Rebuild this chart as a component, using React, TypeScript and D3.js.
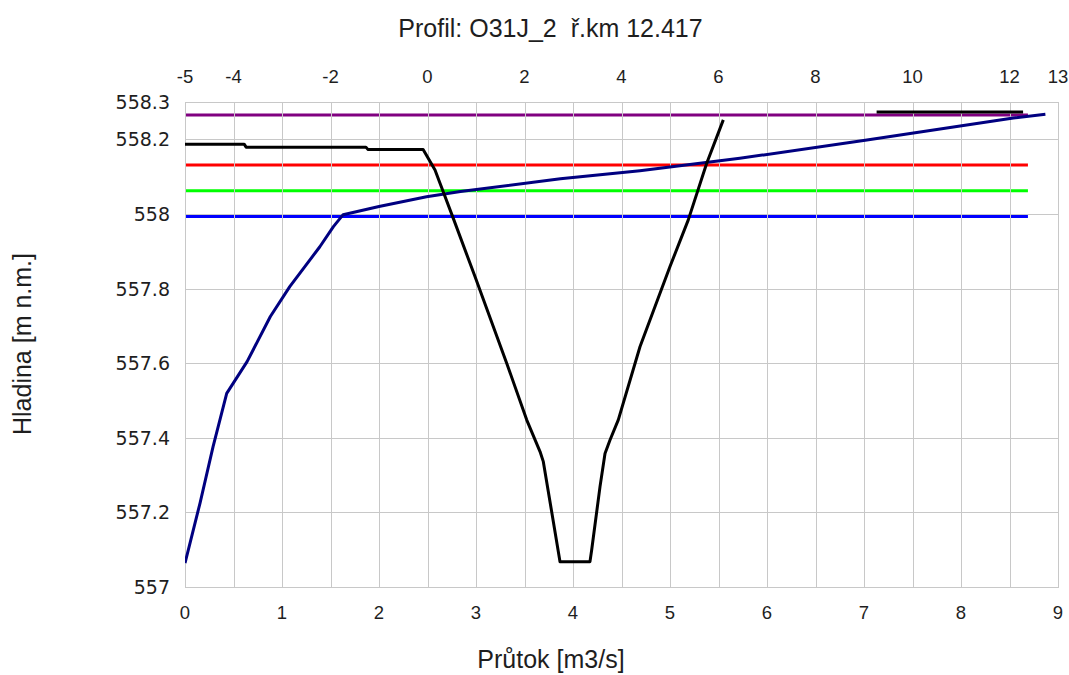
import React from "react";
import * as d3 from "d3";

// ---- data ----
const titleText = "Profil: O31J_2  ř.km 12.417";
const xTitle = "Průtok [m3/s]";
const yTitle = "Hladina [m n.m.]";

const bottomTicks = [0, 1, 2, 3, 4, 5, 6, 7, 8, 9];
const topTicks = [-5, -4, -2, 0, 2, 4, 6, 8, 10, 12, 13];
const yTicks = [557, 557.2, 557.4, 557.6, 557.8, 558, 558.2, 558.3];

// rating curve: discharge Q [m3/s] vs water level H
const ratingQ = [0, 0.155, 0.29, 0.43, 0.64, 0.88, 1.08, 1.39, 1.53, 1.63, 2.0, 2.49, 2.84, 3.87, 4.69, 5.72, 7.03, 8.54, 8.87];
const ratingH = [557.064, 557.225, 557.377, 557.519, 557.604, 557.725, 557.805, 557.912, 557.966, 557.998, 558.02, 558.046, 558.06, 558.094, 558.116, 558.149, 558.198, 558.257, 558.267];

// cross-section profile: station [m] vs elevation (NaN = gap)
const profileStation = [-5, -3.78, -3.74, -1.27, -1.23, -0.09, 0.155, 0.258, 0.532, 0.979, 1.633, 2.045, 2.32, 2.388, 2.732, 3.35, 3.385, 3.557, 3.66, 3.763, 3.934, 4.381, 5.0, 5.377, 5.757, 6.099, NaN, 9.26, 12.28];
const profileElev = [558.187, 558.187, 558.179, 558.179, 558.173, 558.173, 558.118, 558.082, 557.988, 557.832, 557.6, 557.448, 557.363, 557.336, 557.068, 557.068, 557.099, 557.269, 557.358, 557.394, 557.448, 557.644, 557.859, 557.984, 558.136, 558.252, NaN, 558.273, 558.273];

// water levels (horizontal lines) spanning the profile stations
const levelValues = [558.265, 558.131, 558.062, 557.993];
const levelColors = ["#800080", "#ff0000", "#00ff00", "#0000ff"];
const levelStart = -5;
const levelEnd = 12.38;

export default function App() {
  const W = 1069, H = 675;
  const left = 185, right = 1058, top = 102, bottom = 587;
  const x = d3.scaleLinear().domain([0, 9]).range([left, right]);
  const xTop = d3.scaleLinear().domain([-5, 13]).range([left, right]);
  const y = d3.scaleLinear().domain([557, 558.3]).range([bottom, top]);

  const gridXs = Array.from(new Set([...bottomTicks.map((t) => Math.round(x(t))), ...topTicks.map((t) => Math.round(xTop(t)))]));

  const ratingPts: [number, number][] = ratingQ.map((q, i) => [q, ratingH[i]]);
  const ratingLine = d3.line<[number, number]>().x((d) => x(d[0])).y((d) => y(d[1]));

  const profPts: [number, number][] = profileStation.map((s, i) => [s, profileElev[i]]);
  const profLine = d3
    .line<[number, number]>()
    .defined((d) => !isNaN(d[0]) && !isNaN(d[1]))
    .x((d) => xTop(d[0]))
    .y((d) => y(d[1]));

  const gridColor = "#c8c8c8";
  const textColor = "#1e1e1e";
  const arial = "'Liberation Sans', Arial, sans-serif";

  return (
    <svg width={W} height={H} style={{ position: "absolute", left: 0, top: 0, background: "#fff" }}>
      <rect x={0} y={0} width={W} height={H} fill="#fff" />
      <defs>
        <clipPath id="plotclip">
          <rect x={left} y={top} width={right - left} height={bottom - top} />
        </clipPath>
      </defs>

      {/* water levels */}
      <g clipPath="url(#plotclip)">
        {levelValues.map((v, i) => (
          <line key={i} x1={xTop(levelStart)} x2={xTop(levelEnd)} y1={y(v)} y2={y(v)} stroke={levelColors[i]} strokeWidth={3} />
        ))}
      </g>

      {/* grid */}
      <g shapeRendering="crispEdges">
        {gridXs.map((gx, i) => (
          <line key={"gx" + i} x1={gx + 0.5} x2={gx + 0.5} y1={top} y2={bottom} stroke={gridColor} strokeWidth={1} />
        ))}
        {yTicks.map((t, i) => (
          <line key={"gy" + i} x1={left} x2={right} y1={Math.round(y(t)) + 0.5} y2={Math.round(y(t)) + 0.5} stroke={gridColor} strokeWidth={1} />
        ))}
        <rect x={left + 0.5} y={top + 0.5} width={right - left} height={bottom - top} fill="none" stroke={gridColor} strokeWidth={1} />
      </g>

      {/* curves */}
      <g clipPath="url(#plotclip)">
        <path d={ratingLine(ratingPts) || ""} fill="none" stroke="#000080" strokeWidth={3} strokeLinejoin="round" />
        <path d={profLine(profPts) || ""} fill="none" stroke="#000000" strokeWidth={3} strokeLinejoin="round" />
      </g>

      {/* axis labels */}
      <g fill={textColor} fontFamily={arial} fontSize={18.5} textAnchor="middle">
        {bottomTicks.map((t) => (
          <text key={"b" + t} x={x(t)} y={619}>{t}</text>
        ))}
        {topTicks.map((t) => (
          <text key={"t" + t} x={xTop(t)} y={83}>{t}</text>
        ))}
      </g>
      <g fill={textColor} fontFamily="'DejaVu Sans', Verdana, sans-serif" fontSize={19} textAnchor="end">
        {yTicks.map((t) => (
          <text key={"y" + t} x={170} y={y(t) + 7}>{d3.format("~f")(t)}</text>
        ))}
      </g>

      {/* titles */}
      <text x={550.5} y={36.5} textAnchor="middle" fontFamily={arial} fontSize={25} fill={textColor} style={{ whiteSpace: "pre" }}>{titleText}</text>
      <text x={551} y={668} textAnchor="middle" fontFamily={arial} fontSize={25} fill={textColor}>{xTitle}</text>
      <text transform="translate(31,344) rotate(-90)" textAnchor="middle" fontFamily={arial} fontSize={25} fill={textColor}>{yTitle}</text>
    </svg>
  );
}
